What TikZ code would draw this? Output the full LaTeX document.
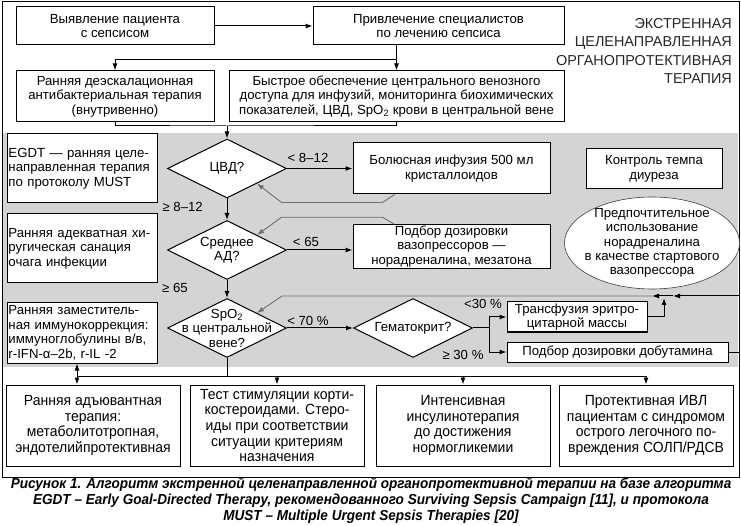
\documentclass[tikz,border=0pt]{standalone}
\usepackage{fontspec}
\setmainfont{Liberation Sans}
\newfontfamily\narrowfont[FakeStretch=0.95]{Liberation Sans}
\newfontfamily\capfont[FakeStretch=0.935]{Liberation Sans}
\usetikzlibrary{positioning,arrows.meta,shapes.geometric,calc}
\definecolor{fieldgray}{HTML}{D4D4D4}
\definecolor{backgray}{HTML}{6E6E6E}
\newcommand\bodysize{\fontsize{13.2}{14.5}\selectfont}
\newcommand\bottomsize{\narrowfont\fontsize{14.7}{15.6}\selectfont}

\begin{document}
\begin{tikzpicture}[
    x=1pt, y=-1pt,
    box/.style={draw, line width=1pt, fill=white, align=center,
                inner xsep=2pt, inner ysep=1pt, font=\bodysize},
    sidebox/.style={box, align=left, text width=147pt, inner xsep=1.5pt,
                    minimum width=150pt},
    lowbox/.style={box, font=\bottomsize, minimum width=174pt,
                   minimum height=81pt},
    decision/.style={diamond, draw, line width=1pt, fill=white,
                     inner sep=0pt, minimum width=119pt, minimum height=59pt},
    inside/.style={align=center, inner sep=0pt, font=\bodysize},
    cond/.style={inner sep=1pt, font=\bodysize},
    arr/.style={line width=1pt, -{Latex[length=7pt,width=5pt]}},
    link/.style={line width=1pt},
    backline/.style={draw=backgray, line width=0.9pt,
                     -{Latex[length=7pt,width=5pt]}},
]
\useasboundingbox (0,0) rectangle (741,526);
\fill[fieldgray] (3,133) rectangle (738,367);
\draw[line width=1pt] (2,2) rectangle (739,477);

% upper part
\node[box, minimum width=198pt, minimum height=38pt]
    (detect) at (115,26) {Выявление пациента\\с сепсисом};
\node[box, minimum width=251pt, minimum height=38pt]
    (involve) at (438.5,26) {Привлечение специалистов\\по лечению сепсиса};
\node[box, minimum width=198pt, minimum height=51pt]
    (antibac) at (115,96.5)
    {Ранняя деэскалационная\\антибактериальная терапия\\(внутривенно)};
\node[box, minimum width=335pt, minimum height=51pt]
    (access) at (396.5,96.5)
    {Быстрое обеспечение центрального венозного\\доступа для инфузий,
     мониторинга биохимических\\показателей, ЦВД, SpO\textsubscript{2}
     крови в центральной вене};
\node[font=\fontsize{14.4}{18.5}\selectfont, align=right, anchor=east,
      inner sep=0pt, text=black!85] (title) at (732,51)
    {ЭКСТРЕННАЯ\\ЦЕЛЕНАПРАВЛЕННАЯ\\ОРГАНОПРОТЕКТИВНАЯ\\ТЕРАПИЯ};

% EGDT part
\node[sidebox, minimum height=69pt] (egdt) at (82,168.5)
    {EGDT — ранняя целе-\\направленная терапия\\по протоколу MUST};
\node[sidebox, minimum height=69pt] (surgery) at (82,248.5)
    {Ранняя адекватная хи-\\ругическая санация\\очага инфекции};
\node[sidebox, minimum height=60pt] (immune) at (82,333)
    {Ранняя заместитель-\\ная иммунокоррекция:\\иммуноглобулины в/в,\\r-IFN-α–2b, r-IL -2};

\node[decision] (cvp) at (227,168.5) {};
\node[inside] at (cvp) {ЦВД?};
\node[decision] (map) at (227,250) {};
\node[inside] at (map) {Среднее\\АД?};
\node[decision] (spo2) at (227,328) {};
\node[inside] at (spo2) {SpO\textsubscript{2}\\в центральной\\вене?};
\node[decision] (hct) at (413,328) {};
\node[inside] at (hct) {Гематокрит?};

\node[box, minimum width=197pt, minimum height=51pt] (bolus) at (451.5,168.5)
    {Болюсная инфузия 500 мл\\кристаллоидов};
\node[box, minimum width=197pt, minimum height=43pt] (vaso) at (451.5,246.5)
    {Подбор дозировки\\вазопрессоров —\\норадреналина, мезатона};
\node[box, minimum width=136pt, minimum height=40pt] (diuresis) at (654,169)
    {Контроль темпа\\диуреза};
\node[ellipse, draw=black!75, line width=0.6pt, fill=white, inner sep=0pt,
      minimum width=175pt, minimum height=92pt] (prefer) at (652,243) {};
\node[inside, font=\fontsize{13.2}{14.2}\selectfont] at (prefer)
    {Предпочтительное\\использование\\норадреналина\\в качестве стартового\\вазопрессора};
\node[box, minimum width=140pt, minimum height=30pt, inner ysep=0.5pt]
    (transf) at (577,317) {Трансфузия эритро-\\цитарной массы};
\node[box, minimum width=221pt, minimum height=20pt, inner ysep=0.5pt]
    (dobut) at (617.5,352) {Подбор дозировки добутамина};

% lower row
\node[lowbox] (adjuvant) at (93,425.5)
    {Ранняя адъювантная\\терапия:\\метаболитотропная,\\эндотелийпротективная};
\node[lowbox] (steroid) at (277,425.5)
    {Тест стимуляции корти-\\костероидами. Стеро-\\иды при соответствии\\ситуации критериям\\назначения};
\node[lowbox] (insulin) at (463,425.5)
    {Интенсивная\\инсулинотерапия\\до достижения\\нормогликемии};
\node[lowbox] (ventil) at (646,425.5)
    {Протективная ИВЛ\\пациентам с синдромом\\острого легочного по-\\вреждения СОЛП/РДСВ};

\node[font=\capfont\bfseries\itshape\fontsize{14.5}{16}\selectfont,
      align=center, inner sep=0pt] (caption) at (371,501)
    {Рисунок 1. Алгоритм экстренной целенаправленной органопротективной терапии на базе алгоритма\\
     EGDT – Early Goal-Directed Therapy, рекомендованного Surviving Sepsis Campaign [11], и протокола\\
     MUST – Multiple Urgent Sepsis Therapies [20]};

% connectors, top
\draw[arr] (detect) -- (involve);
\coordinate (split) at (access.north |- 0,60);
\draw[link] (access.north |- involve.south) -- (split);
\draw[arr] (split) -- (access.north);
\draw[arr] (split) -| (antibac.north);
\coordinate (merge) at (cvp.north |- 0,126);
\draw[link] (antibac.south) |- (merge) -| (access.south);
\draw[arr] (merge) -- (cvp.north);

% connectors, decisions
\draw[arr] (cvp.east) -- (cvp.east -| bolus.west);
\node[cond] at (308,158) {< 8–12};
\draw[backline] ($(bolus.south west)+(42,0)$) -- ++(-12,8) -- ++(-101,0)
    -- (cvp.south east);
\draw[arr] (cvp) -- (map);
\node[cond, anchor=east] at (204,207) {≥ 8–12};
\draw[arr] (map.east) -- (map.east -| vaso.west);
\node[cond] at (306,242) {< 65};
\draw[backline] ($(vaso.north west)+(42,0)$) -- ++(-12,-7) -- ++(-101,0)
    -- (map.north east);
\draw[arr] (map) -- (spo2);
\node[cond, anchor=east] at (189,288) {≥ 65};
\draw[arr] (spo2.east) -- (hct.west);
\node[cond] at (308,321) {< 70 \%};

\coordinate (fork) at ($(hct.east)+(16,0)$);
\draw[link] (hct.east) -- (fork);
\draw[arr] (fork) |- (transf.west);
\draw[arr] (fork) |- (dobut.west);
\node[cond] at (483,304) {<30 \%};
\node[cond] at (463,355) {≥ 30 \%};

\coordinate (ret1) at (673,296);
\coordinate (ret2) at (652,296);
\coordinate (retend) at (282,296);
\coordinate (rise) at (664,298);
\draw[arr] (transf.east) -| (rise);
\draw[arr] (dobut.east) -- ++(11,0) |- (ret1);
\draw[arr] (ret1) -- (ret2);
\draw[backline] (ret2) -- (retend) -- (spo2.north east);

% connectors, bottom
\coordinate (bus) at (spo2.south |- 0,376);
\coordinate (busA) at (77,376);
\draw[link] (spo2.south) -- (bus);
\draw[link] (busA) -- (ventil.north |- bus);
\draw[arr] (steroid.north |- bus) -- (steroid.north);
\draw[arr] (insulin.north |- bus) -- (insulin.north);
\draw[arr] (ventil.north |- bus) -- (ventil.north);
\draw[arr] (busA) -- (busA |- immune.south);
\draw[arr] (busA) -- (busA |- adjuvant.north);
\end{tikzpicture}
\end{document}
